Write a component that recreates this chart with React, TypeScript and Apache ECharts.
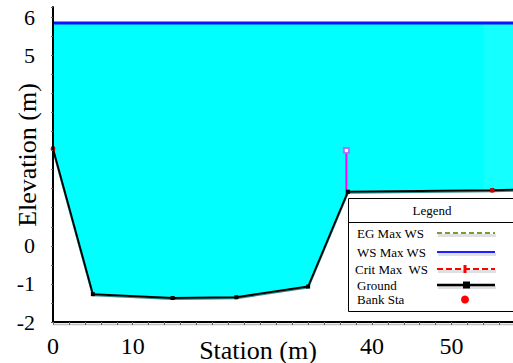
import React, { useEffect, useRef } from "react";
import * as echarts from "echarts";

const groundStation = [0, 5, 15, 23, 32, 37, 55.1, 57.7];
const groundElev = [2.55, -1.27, -1.37, -1.35, -1.07, 1.42, 1.46, 1.47];
const wsStation = [0, 57.7];
const wsElev = [5.85, 5.85];
const rightOverbankStation = [54, 57.7];
const bankStation = [0, 55.1];
const bankElev = [2.55, 1.46];
const leveeStation = [36.8, 36.8];
const leveeElev = [1.32, 2.5];
const hiddenX = [20, 30];
const hiddenY = [1, 2, 3, 4];

const SERIF = "Liberation Serif";

export default function App() {
  const ref = useRef<HTMLDivElement>(null);
  useEffect(() => {
    document.body.style.margin = "0";
    if (!ref.current) return;
    const chart = echarts.init(ref.current, null, { renderer: "svg" });
    const ground = groundStation.map((s, i) => ({
      value: [s, groundElev[i]],
      symbol: i === groundStation.length - 1 ? "none" : "rect",
    }));
    const ws = wsStation.map((s, i) => [s, wsElev[i]]);
    const rob = rightOverbankStation.map((s) => [s, wsElev[0]]);
    const bank = bankStation.map((s, i) => [s, bankElev[i]]);
    const levee = leveeStation.map((s, i) => ({
      value: [s, leveeElev[i]],
      symbol: i === 1 ? "emptyRect" : "none",
    }));
    const lx0 = 437, lx1 = 495;
    const txt = (text: string, x: number, y: number, align = "left") => ({
      type: "text",
      x,
      y,
      z: 101,
      style: { text, fontFamily: SERIF, fontSize: 13, fill: "#000", align, verticalAlign: "middle" },
    });
    const shade = (y: number) => ({
      type: "line",
      z: 100,
      shape: { x1: lx0 + 1, y1: y + 2.5, x2: lx1 + 1, y2: y + 2.5 },
      style: { stroke: "rgba(0,0,0,0.12)", lineWidth: 3 },
    });
    chart.setOption({
      animation: false,
      textStyle: { fontFamily: SERIF },
      grid: { left: 53, right: 0, top: 7, bottom: 41 },
      xAxis: {
        type: "value",
        min: 0,
        max: 57.7,
        interval: 10,
        z: 10,
        axisLine: { show: true, onZero: false, lineStyle: { color: "#000", width: 2 } },
        axisTick: { show: true, length: 3, lineStyle: { color: "#666" } },
        minorTick: { show: true, splitNumber: 5, length: 3, lineStyle: { color: "#666" } },
        splitLine: { show: false },
        axisLabel: {
          margin: 12,
          fontFamily: SERIF,
          fontSize: 24,
          color: "#000",
          showMaxLabel: false,
          formatter: (v: number) => (hiddenX.includes(v) ? "" : String(v)),
        },
      },
      yAxis: {
        type: "value",
        min: -2,
        max: 6.27,
        interval: 1,
        z: 10,
        axisLine: { show: true, onZero: false, lineStyle: { color: "#000", width: 2 } },
        axisTick: { show: true, length: 2, lineStyle: { color: "#666" } },
        minorTick: { show: true, splitNumber: 2, length: 2, lineStyle: { color: "#666" } },
        splitLine: { show: false },
        axisLabel: {
          margin: 18,
          fontFamily: SERIF,
          fontSize: 22,
          color: "#000",
          showMaxLabel: false,
          formatter: (v: number) => (hiddenY.includes(v) ? "" : String(v)),
        },
      },
      series: [
        {
          name: "WaterFill",
          type: "line",
          data: ws,
          symbol: "none",
          lineStyle: { width: 0 },
          areaStyle: { color: "#00FFFF", opacity: 1, origin: "start" },
          z: 1,
          silent: true,
        },
        {
          name: "RightOverbankFill",
          type: "line",
          data: rob,
          symbol: "none",
          lineStyle: { width: 0 },
          areaStyle: { color: "#14FFFF", opacity: 1, origin: "start" },
          z: 1,
          silent: true,
        },
        {
          name: "GroundFill",
          type: "line",
          data: ground.map((d) => d.value),
          symbol: "none",
          lineStyle: { width: 0 },
          areaStyle: { color: "#FFFFFF", opacity: 1, origin: "start" },
          z: 2,
          silent: true,
        },
        {
          name: "WS Max WS",
          type: "line",
          data: ws,
          symbol: "none",
          lineStyle: { color: "#1010FF", width: 3 },
          z: 5,
        },
        {
          name: "Levee",
          type: "line",
          data: levee,
          symbolSize: 5,
          itemStyle: { color: "#B070FF", borderColor: "#B070FF" },
          lineStyle: { color: "#FF00FF", width: 2 },
          z: 5,
        },
        {
          name: "Ground",
          type: "line",
          data: ground,
          symbolSize: 4,
          itemStyle: { color: "#000" },
          lineStyle: { color: "#000", width: 2, shadowColor: "rgba(0,110,110,0.8)", shadowOffsetY: 1, shadowBlur: 1 },
          z: 6,
        },
        {
          name: "Bank Sta",
          type: "scatter",
          data: bank,
          symbol: "circle",
          symbolSize: 5,
          itemStyle: { color: "#FF0000" },
          z: 7,
        },
      ],
      graphic: [
        {
          type: "text",
          x: 258,
          y: 350,
          style: { text: "Station (m)", fontFamily: SERIF, fontSize: 26, fill: "#000", align: "center", verticalAlign: "middle" },
        },
        {
          type: "text",
          x: 27,
          y: 155,
          rotation: Math.PI / 2,
          style: { text: "Elevation (m)", fontFamily: SERIF, fontSize: 26, fill: "#000", align: "center", verticalAlign: "middle" },
        },
        { type: "line", z: 5, shape: { x1: 54, y1: 324.5, x2: 513, y2: 324.5 }, style: { stroke: "rgba(0,0,0,0.25)", lineWidth: 1.5 } },
        { type: "rect", z: 99, shape: { x: 348.5, y: 198.5, width: 170, height: 113 }, style: { fill: "#fff", stroke: "#000", lineWidth: 1 } },
        { type: "line", z: 101, shape: { x1: 348.5, y1: 222.5, x2: 520, y2: 222.5 }, style: { stroke: "#000", lineWidth: 1 } },
        txt("Legend", 432, 210.5, "center"),
        txt("EG Max WS", 357, 233),
        txt("WS Max WS", 357, 252),
        txt("Crit Max  WS", 355, 269),
        txt("Ground", 357, 285),
        txt("Bank Sta", 357, 299),
        shade(233),
        shade(252),
        shade(269),
        shade(285),
        { type: "line", z: 101, shape: { x1: lx0, y1: 233, x2: lx1, y2: 233 }, style: { stroke: "#7A9A3C", lineWidth: 2, lineDash: [5, 3] } },
        { type: "line", z: 101, shape: { x1: lx0, y1: 252, x2: lx1, y2: 252 }, style: { stroke: "#2020FF", lineWidth: 2 } },
        { type: "line", z: 101, shape: { x1: lx0, y1: 269, x2: lx1, y2: 269 }, style: { stroke: "#FF0000", lineWidth: 2, lineDash: [6, 3] } },
        { type: "rect", z: 102, shape: { x: 463.5, y: 265, width: 3, height: 8 }, style: { fill: "#FF0000" } },
        { type: "line", z: 101, shape: { x1: lx0, y1: 285, x2: lx1, y2: 285 }, style: { stroke: "#000", lineWidth: 2.5 } },
        { type: "rect", z: 102, shape: { x: 463, y: 281.5, width: 7, height: 7 }, style: { fill: "#000" } },
        { type: "circle", z: 102, shape: { cx: 465, cy: 299.5, r: 4 }, style: { fill: "#FF0000" } },
      ],
    });
    return () => chart.dispose();
  }, []);
  return <div ref={ref} style={{ width: 513, height: 363 }} />;
}
